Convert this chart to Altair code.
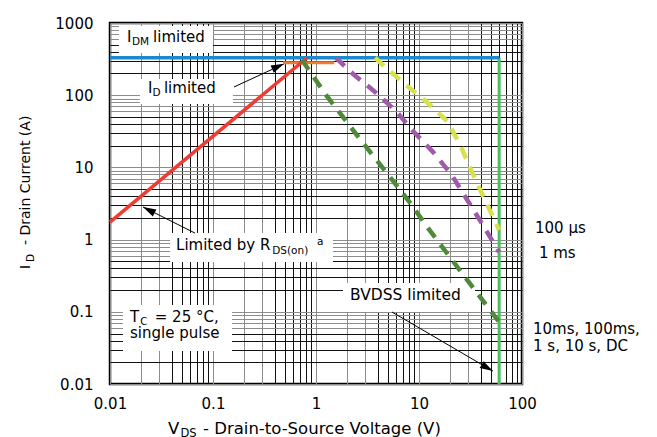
import altair as alt
import pandas as pd

# ---------------- data ----------------
RDS_V = [0.01, 0.82]
RDS_I = [1.75, 330]
IDM_V = [0.01, 60]
IDM_I = [330, 330]
ID_V = [0.48, 1.5]
ID_I = [282, 282]
BV_V = [60, 60]
BV_I = [0.01, 330]
US100_V = [3.74, 4.68, 7.48, 12.2, 19.1, 25.6, 32.7, 42.8, 60]
US100_I = [330, 246, 138, 78, 42.6, 19.2, 8.6, 3.77, 1.36]
MS1_V = [1.56, 2.29, 3.74, 5.98, 8.93, 13.7, 20.5, 28.6, 40, 60]
MS1_I = [330, 197, 111, 60.4, 30.9, 16.3, 8.1, 3.77, 1.75, 0.67]
DC_V = [0.73, 1.25, 2.67, 5.71, 8.36, 12.2, 26.1, 60]
DC_I = [308, 101, 24.7, 6.28, 3.11, 1.45, 0.344, 0.072]

# grid / tick values (1..9 per decade)
X_TICKS = [round(m * 10.0 ** e, 6) for e in range(-2, 2) for m in range(1, 10)] + [100]
Y_TICKS = [round(m * 10.0 ** e, 6) for e in range(-2, 3) for m in range(1, 10)] + [1000]

# white annotation boxes (data coordinates)
BOX_X1 = [0.0122, 0.0195, 0.0383, 0.01337, 1.83]
BOX_X2 = [0.1, 0.156, 1.46, 0.153, 35]
BOX_Y1 = [908, 167, 1.23, 0.124, 0.25]
BOX_Y2 = [384, 75.5, 0.49, 0.0286, 0.0993]

# arrows: tail -> tip
ARR_X1 = [0.16, 0.0669, 5.47]
ARR_Y1 = [130, 1.23, 0.0993]
ARR_X2 = [0.49, 0.0209, 52.2]
ARR_Y2 = [272, 2.83, 0.0151]
ARR_ANG = [66, 297, 120]

# annotation text pieces
NOTE_T = ["I", "DM", "limited",
          "I", "D", "limited",
          "Limited by R", "DS(on)", "a",
          "T", "C", "= 25 °C,", "single pulse",
          "BVDSS limited",
          "100 µs", "1 ms", "10ms, 100ms,", "1 s, 10 s, DC"]
NOTE_X = [0.01462, 0.01636, 0.0262,
          0.0234, 0.02586, 0.0334,
          0.04375, 0.376, 1.023,
          0.01564, 0.0197, 0.0272, 0.01564,
          2.14,
          133.7, 146, 127.9, 127.9]
NOTE_Y = [546, 488, 546,
          107.3, 97.5, 107.3,
          0.718, 0.632, 0.842,
          0.0722, 0.0657, 0.0722, 0.0434,
          0.1457,
          1.234, 0.556, 0.0493, 0.0286]
NOTE_FS = [15, 10.5, 15,
           15, 10.5, 15,
           15, 10.5, 10.5,
           15, 10, 15, 15,
           15.5,
           15, 15, 15, 15]

FONT = "DejaVu Sans"

# ---------------- scales & axes ----------------
xs = alt.Scale(type="log", domain=[0.01, 100], nice=False)
ys = alt.Scale(type="log", domain=[0.01, 1000], nice=False)

digit = "round(datum.value / pow(10, floor(log(datum.value) / LN10 + 1e-9)))"
decade = "abs(log(datum.value) / LN10 - round(log(datum.value) / LN10)) < 1e-6"
lab = f"{decade} ? format(datum.value, '~g') : ''"

xaxis = alt.Axis(values=X_TICKS, labelExpr=lab, title=None, grid=True,
                 gridColor={"condition": {"test": f"{digit} >= 4", "value": "#111111"},
                            "value": "#8c8c8c"},
                 gridWidth=1, gridOpacity=1, domain=False, ticks=False,
                 labelPadding=12, labelFlush=False, labelOverlap=False,
                 labelFont=FONT, labelFontSize=15, labelColor="black")
yaxis = alt.Axis(values=Y_TICKS, labelExpr=lab, title=None, grid=True,
                 gridColor={"condition": {"test": f"{digit} >= 2 && {digit} <= 5", "value": "#111111"},
                            "value": "#8c8c8c"},
                 gridWidth=1, gridOpacity=1, domain=False, ticks=False,
                 labelPadding=17, labelFlush=False, labelOverlap=False,
                 labelFont=FONT, labelFontSize=15, labelColor="black")


def X(f):
    return alt.X(f, type="quantitative", scale=xs, axis=xaxis)


def Y(f):
    return alt.Y(f, type="quantitative", scale=ys, axis=yaxis)


def line_layer(vs, is_, color, width, dash=None):
    df = pd.DataFrame({"v": vs, "i": is_, "k": list(range(len(vs)))})
    kw = dict(color=color, strokeWidth=width, clip=False)
    if dash:
        kw["strokeDash"] = dash
    return alt.Chart(df).mark_line(**kw).encode(x=X("v"), y=Y("i"), order="k:Q")


boxes = alt.Chart(pd.DataFrame({"x1": BOX_X1, "x2": BOX_X2, "y1": BOX_Y1, "y2": BOX_Y2})).mark_rect(
    color="white").encode(x=X("x1"), x2="x2:Q", y=Y("y1"), y2="y2:Q")

arr_df = pd.DataFrame({"x1": ARR_X1, "y1": ARR_Y1, "x2": ARR_X2, "y2": ARR_Y2, "ang": ARR_ANG})
arrows = alt.Chart(arr_df).mark_rule(color="black", strokeWidth=1).encode(
    x=X("x1"), x2="x2:Q", y=Y("y1"), y2="y2:Q")
heads = alt.Chart(arr_df).mark_point(shape="M0,0L-0.6,2L0.6,2Z", filled=True, color="black",
                                     opacity=1, size=170).encode(
    x=X("x2"), y=Y("y2"), angle=alt.Angle("ang:Q", scale=None))

notes = alt.Chart(pd.DataFrame({"x": NOTE_X, "y": NOTE_Y, "t": NOTE_T, "fs": NOTE_FS})).mark_text(
    align="left", baseline="alphabetic", font=FONT, color="black").encode(
    x=X("x"), y=Y("y"), text="t:N", size=alt.Size("fs:Q", scale=None, legend=None))


def ptext(txt, px, py, fs, angle=0):
    kw = dict(align="left", baseline="alphabetic", font=FONT, fontSize=fs, color="black")
    if angle:
        kw["angle"] = angle
    return alt.Chart().mark_text(**kw).encode(x=alt.value(px), y=alt.value(py), text=alt.value(txt))


titles = [
    ptext("V", 58, 410.5, 16.5),
    ptext("DS", 70.5, 414, 11.5),
    ptext("- Drain-to-Source Voltage (V)", 93, 410.5, 16.5),
    ptext("I", -80, 246, 14, 270),
    ptext("D", -76, 239, 10.5, 270),
    ptext("- Drain Current (A)", -80, 222, 14, 270),
]

layers = [
    boxes,
    arrows,
    heads,
    line_layer(BV_V, BV_I, "#4dbb5f", 3),
    line_layer(IDM_V, IDM_I, "#1e88cf", 3.5),
    line_layer(ID_V, ID_I, "#f47a2f", 3),
    line_layer(RDS_V, RDS_I, "#ee3b33", 3.5),
    line_layer(DC_V, DC_I, "#4f8a3a", 4.5, [12, 9]),
    line_layer(MS1_V, MS1_I, "#a05aaa", 4.5, [12, 9]),
    line_layer(US100_V, US100_I, "#d6e14c", 4.5, [12, 9]),
    notes,
] + titles

chart = alt.layer(*layers).properties(
    width=412, height=361,
    padding={"left": 102, "top": 15, "right": 127, "bottom": 53},
    autosize=alt.AutoSizeParams(type="none"),
    background="white",
).configure_view(stroke="black", strokeWidth=2.5)

chart.save("out.html", embed_options={"renderer": "svg", "actions": False})
